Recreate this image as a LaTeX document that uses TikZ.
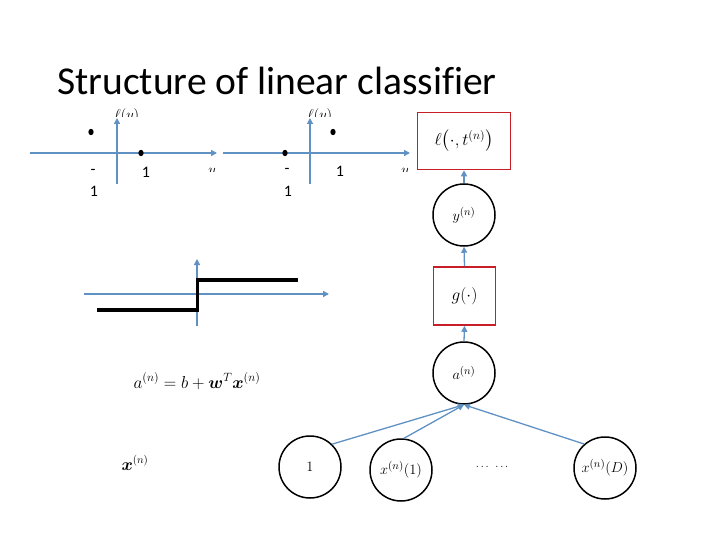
\documentclass[tikz,border=0pt]{standalone}
\usepackage{amsmath,amssymb}
\usepackage{fontspec}
\setmainfont{Carlito}[Ligatures=NoCommon]
\usetikzlibrary{arrows.meta}
\definecolor{axisblue}{RGB}{95,145,195}
\definecolor{boxred}{RGB}{200,30,40}
\tikzset{
  axis/.style={-{Triangle[length=6pt,width=6pt]}, axisblue, line width=1.3pt},
  unit/.style={circle, draw=black, line width=1.5pt, minimum size=62pt, inner sep=0pt, font=\fontsize{15}{18}\selectfont},
  func/.style={rectangle, draw=boxred, line width=1.6pt, inner sep=0pt, font=\fontsize{18}{22}\selectfont},
  tick/.style={font=\fontsize{16}{19}\selectfont, inner sep=0pt},
  cut/.style={font=\fontsize{14}{17}\selectfont, inner sep=0pt, anchor=base},
}

\begin{document}
\begin{tikzpicture}[x=1pt,y=-1pt]
\useasboundingbox (0,0) rectangle (720,540);
\node[anchor=base west, inner sep=0pt, font=\fontsize{39.5}{46}\selectfont] (title) at (57,95) {Structure of linear classif\kern0pt ier};

%the first loss
\draw[axis] (30,153) -- (217,153);
\draw[axis] (117,184) -- (117,118);
\begin{scope}
\clip (100,100) rectangle (140,117);
\node[cut] (lossa) at (127,120) {$\ell(y)$};
\end{scope}
\begin{scope}
\clip (200,160) rectangle (225,171.5);
\node[cut] (ya) at (212,175) {$y$};
\end{scope}
\fill (91,132) ellipse (2.6pt and 3.2pt);
\fill (141,153) ellipse (2.6pt and 3.2pt);
\node[tick] (ma) at (93,172) {-};
\node[tick] (oa) at (94,191) {1};
\node[tick] (pa) at (146,172) {1};

%the second loss
\draw[axis] (223,153) -- (410,153);
\draw[axis] (310,184) -- (310,118);
\begin{scope}
\clip (293,100) rectangle (333,117);
\node[cut] (lossb) at (320,120) {$\ell(y)$};
\end{scope}
\begin{scope}
\clip (393,160) rectangle (413,171.5);
\node[cut] (yb) at (405,175) {$y$};
\end{scope}
\fill (285,153) ellipse (2.6pt and 3.2pt);
\fill (333,132) ellipse (2.6pt and 3.2pt);
\node[tick] (mb) at (287,171) {-};
\node[tick] (ob) at (288,191) {1};
\node[tick] (pb) at (340,171) {1};

%the step
\draw[axis] (84,294) -- (329,294);
\draw[axis] (197,326) -- (197,259);
\draw[line width=3.6pt] (97,310) -- (197.5,310) -- (197.5,280) -- (298,280);

%the formula
\node[font=\fontsize{17.5}{21}\selectfont] (eq) at (197,381) {$a^{(n)} = b + \boldsymbol{w}^T \boldsymbol{x}^{(n)}$};
\node[font=\fontsize{16}{19}\selectfont] (xvec) at (135,463) {$\boldsymbol{x}^{(n)}$};

%the network
\node[func, minimum width=93pt, minimum height=57pt] (loss) at (464,141) {$\ell\big(\cdot, t^{(n)}\big)$};
\node[unit] (y) at (464,215) {$y^{(n)}$};
\node[func, minimum width=62pt, minimum height=58pt] (g) at (464.5,296) {$g(\cdot)$};
\node[unit] (a) at (464,373) {$a^{(n)}$};
\node[unit] (one) at (310,467) {$1$};
\node[unit] (x1) at (401,470) {$x^{(n)}(1)$};
\node[font=\fontsize{11}{13}\selectfont] (dots) at (493,467) {$\dots\ \ \dots$};
\node[unit] (xD) at (605,468) {$x^{(n)}(D)$};

\draw[axis] (y.north) -- (loss.south);
\draw[axis] (g.north) -- (y.south);
\draw[axis] (a.north) -- (g.south);
\draw[axis] (one.46) -- (a.south);
\draw[axis] (x1.85) -- (a.south);
\draw[axis] (xD.131) -- (a.south);
\end{tikzpicture}
\end{document}
